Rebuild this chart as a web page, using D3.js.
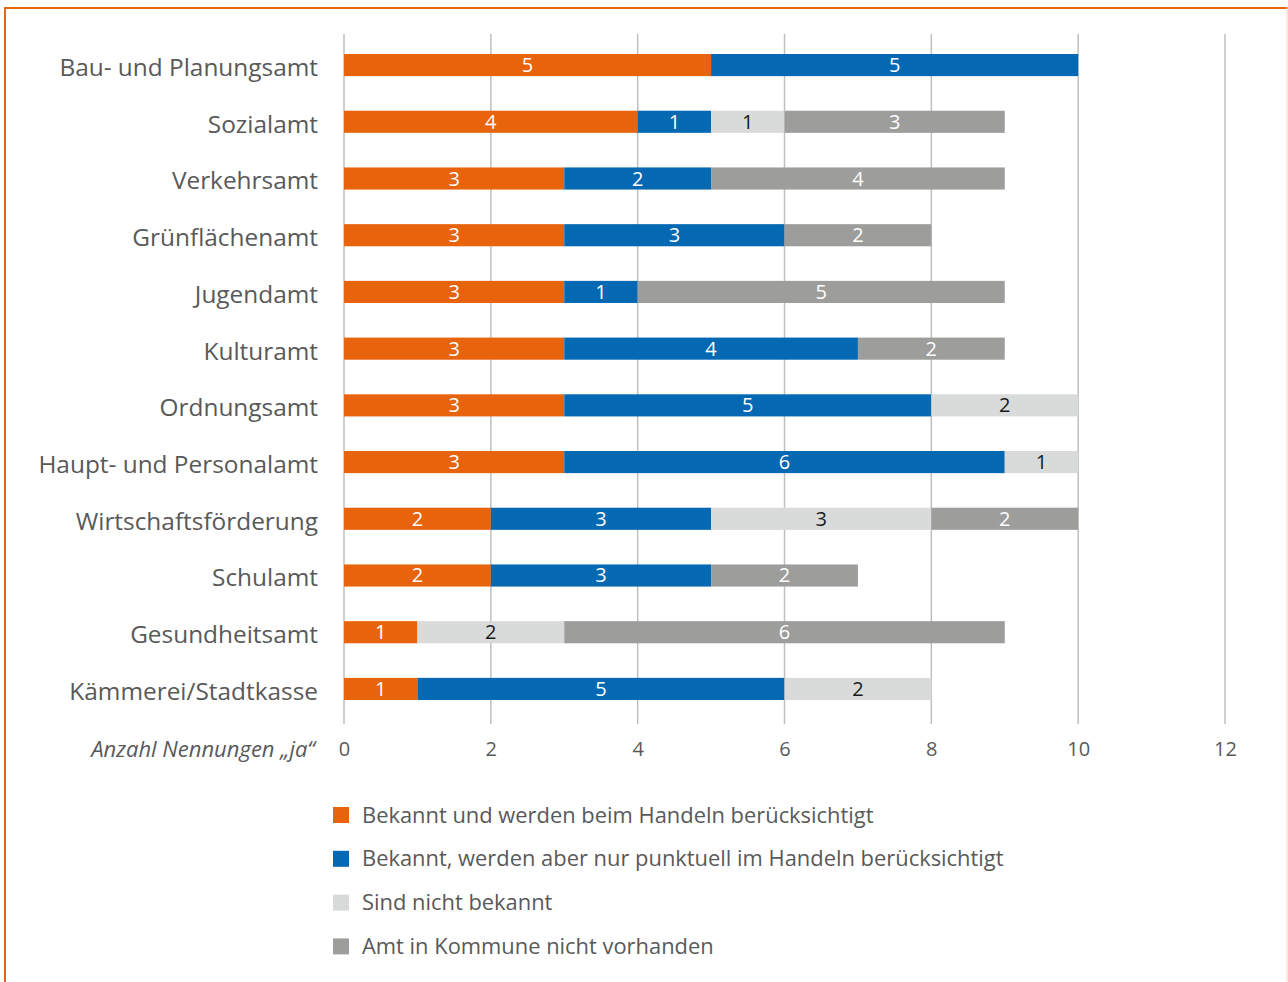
<!DOCTYPE html>
<html>
<head>
<meta charset="utf-8">
<script src="https://cdn.jsdelivr.net/npm/d3@7"></script>
<style>
  html, body { margin: 0; padding: 0; background: #fff; }
  svg { display: block; font-family: "Open Sans", sans-serif; }
</style>
</head>
<body>
<svg id="chart" width="1288" height="982"></svg>
<script>
// Departments (top to bottom)
const categories = [
  "Bau- und Planungsamt", "Sozialamt", "Verkehrsamt", "Grünflächenamt",
  "Jugendamt", "Kulturamt", "Ordnungsamt", "Haupt- und Personalamt",
  "Wirtschaftsförderung", "Schulamt", "Gesundheitsamt", "Kämmerei/Stadtkasse"
];
// Series values per department
const bekanntBeruecksichtigt = [5, 4, 3, 3, 3, 3, 3, 3, 2, 2, 1, 1];
const bekanntPunktuell       = [5, 1, 2, 3, 1, 4, 5, 6, 3, 3, 0, 5];
const nichtBekannt           = [0, 1, 0, 0, 0, 0, 2, 1, 3, 0, 2, 2];
const nichtVorhanden         = [0, 3, 4, 2, 5, 2, 0, 0, 2, 2, 6, 0];
const seriesNames = [
  "Bekannt und werden beim Handeln berücksichtigt",
  "Bekannt, werden aber nur punktuell im Handeln berücksichtigt",
  "Sind nicht bekannt",
  "Amt in Kommune nicht vorhanden"
];
const xTicks = [0, 2, 4, 6, 8, 10, 12];
const axisTitle = "Anzahl Nennungen „ja“";

const colors = ["#E8640C", "#0568B3", "#D9DADA", "#9D9D9C"];
const labelColors = ["#fff", "#fff", "#1a1a1a", "#fff"];
const keys = ["a", "b", "c", "d"];

const rows = categories.map((c, i) => ({
  cat: c,
  a: bekanntBeruecksichtigt[i],
  b: bekanntPunktuell[i],
  c: nichtBekannt[i],
  d: nichtVorhanden[i]
}));
const stacked = d3.stack().keys(keys)(rows);

const svg = d3.select("#chart");

// Orange frame
svg.append("line").attr("x1", 5).attr("x2", 1288).attr("y1", 8).attr("y2", 8)
  .attr("stroke", "#E8640C").attr("stroke-width", 2);
svg.append("line").attr("x1", 5).attr("x2", 5).attr("y1", 7).attr("y2", 982)
  .attr("stroke", "#E8640C").attr("stroke-width", 2);
svg.append("line").attr("x1", 1287).attr("x2", 1287).attr("y1", 7).attr("y2", 982)
  .attr("stroke", "#F6D5BE").attr("stroke-width", 1);

const x = d3.scaleLinear().domain([0, 12]).range([344, 1225]);
const y = d3.scaleBand().domain(categories).range([37, 717]).paddingInner(0.61).paddingOuter(0.3);

// Vertical gridlines
svg.append("g").selectAll("line").data(xTicks).join("line")
  .attr("x1", d => x(d)).attr("x2", d => x(d))
  .attr("y1", 34).attr("y2", 724)
  .attr("stroke", "#BFBFBF").attr("stroke-width", 1.5);

// X-axis tick labels
const xAxis = d3.axisBottom(x).tickValues(xTicks).tickSize(0).tickPadding(0);
const gx = svg.append("g").attr("transform", "translate(0,749)").call(xAxis);
gx.select(".domain").remove();
gx.selectAll("text").attr("font-size", 20).attr("fill", "#595959")
  .attr("font-family", "'Open Sans', sans-serif").attr("dy", "0.35em");

svg.append("text").attr("x", 315).attr("y", 749).attr("dy", "0.35em")
  .attr("text-anchor", "end").attr("font-size", 22).attr("font-style", "italic")
  .attr("fill", "#595959").text(axisTitle);

// Category labels
const yAxis = d3.axisLeft(y).tickSize(0).tickPadding(0);
const gy = svg.append("g").attr("transform", "translate(318,0)").call(yAxis);
gy.select(".domain").remove();
gy.selectAll("text").attr("font-size", 24.4).attr("fill", "#595959")
  .attr("font-family", "'Open Sans', sans-serif").attr("dy", "0.45em");

// Stacked bars
const layers = svg.append("g").selectAll("g").data(stacked).join("g")
  .attr("fill", (d, i) => colors[i]);
layers.selectAll("rect").data(d => d.filter(s => s[1] > s[0])).join("rect")
  .attr("x", d => x(d[0]))
  .attr("width", d => x(d[1]) - x(d[0]))
  .attr("y", d => y(d.data.cat))
  .attr("height", y.bandwidth());

// Segment value labels
const lab = svg.append("g").selectAll("g").data(stacked).join("g")
  .attr("fill", (d, i) => labelColors[i]);
lab.selectAll("text").data(d => d.filter(s => s[1] > s[0])).join("text")
  .attr("x", d => (x(d[0]) + x(d[1])) / 2)
  .attr("y", d => y(d.data.cat) + y.bandwidth() / 2)
  .attr("dy", "0.35em")
  .attr("text-anchor", "middle")
  .attr("font-size", 20)
  .text(d => d[1] - d[0]);

// Legend
const legend = svg.append("g").selectAll("g").data(seriesNames).join("g")
  .attr("transform", (d, i) => `translate(333,${815 + i * 43.8})`);
legend.append("rect").attr("x", 0).attr("y", -8).attr("width", 16).attr("height", 16)
  .attr("fill", (d, i) => colors[i]);
legend.append("text").attr("x", 29).attr("y", 0).attr("dy", "0.35em")
  .attr("font-size", 21.9).attr("fill", "#595959").text(d => d);
</script>
</body>
</html>
